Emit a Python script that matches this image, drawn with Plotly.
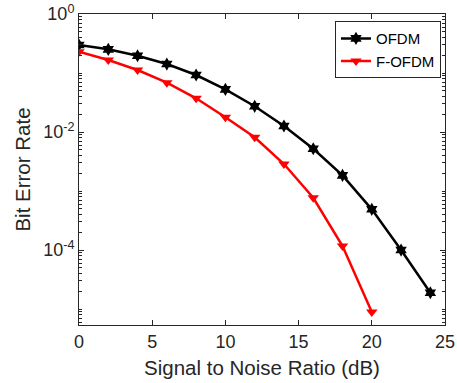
import numpy as np
import plotly.graph_objects as go

snr_ofdm = [0, 2, 4, 6, 8, 10, 12, 14, 16, 18, 20, 22, 24]
ber_ofdm = [0.298, 0.252, 0.196, 0.142, 0.0925, 0.0529, 0.0273, 0.01264,
            0.00521, 0.001845, 4.90e-4, 1.0e-4, 1.89e-5]
snr_fofdm = [0, 2, 4, 6, 8, 10, 12, 14, 16, 18, 20]
ber_fofdm = [0.2297, 0.166, 0.1124, 0.0685, 0.0373, 0.01775, 0.00813,
             0.00287, 7.69e-4, 1.17e-4, 8.9e-6]

x_ticks = [0, 5, 10, 15, 20, 25]
y_ticks = [1, 1e-2, 1e-4]
y_ticktext = ["10<sup>0</sup>", "10<sup>-2</sup>", "10<sup>-4</sup>"]

AX = "#262626"
FONT = "Liberation Sans, Arial, Helvetica, sans-serif"

minor_vals = []
for k in range(-6, 0):
    for m in range(1, 10):
        v = m * 10.0 ** k
        if v not in y_ticks:
            minor_vals.append(v)

fig = go.Figure()
fig.add_trace(go.Scatter(
    x=snr_ofdm, y=ber_ofdm, mode="lines+markers", name="OFDM",
    line=dict(color="black", width=2.5),
    marker=dict(symbol="hexagram", size=10, color="black"),
))
fig.add_trace(go.Scatter(
    x=snr_fofdm, y=ber_fofdm, mode="lines+markers", name="F-OFDM",
    line=dict(color="#ff0000", width=2.5),
    marker=dict(symbol="triangle-down", size=10, color="#ff0000"),
))

fig.update_layout(
    width=457, height=383,
    margin=dict(l=79, r=12, t=14, b=58, autoexpand=False),
    paper_bgcolor="white", plot_bgcolor="white",
    font=dict(family=FONT, color=AX, size=16),
    showlegend=True,
    legend=dict(
        x=0.989, y=0.977, xanchor="right", yanchor="top",
        bgcolor="white", bordercolor=AX, borderwidth=1,
        font=dict(size=15, color="black"),
        itemwidth=30, tracegroupgap=0,
    ),
)

fig.update_xaxes(
    range=[0, 25], tickvals=x_ticks,
    showline=True, linecolor=AX, linewidth=1, mirror="allticks",
    ticks="inside", ticklen=5, tickcolor=AX, showgrid=False, zeroline=False,
    tickfont=dict(size=18, color=AX),
    title=dict(text="Signal to Noise Ratio (dB)", font=dict(size=20.5, color=AX), standoff=10),
)
fig.update_yaxes(
    type="log", range=[-5.27, 0],
    tickvals=y_ticks, ticktext=y_ticktext,
    showline=True, linecolor=AX, linewidth=1, mirror="allticks",
    ticks="inside", ticklen=5, tickcolor=AX, showgrid=False, zeroline=False,
    tickfont=dict(size=18, color=AX),
    minor=dict(tickmode="array", tickvals=minor_vals, ticks="inside", ticklen=3,
               tickcolor=AX, showgrid=False),
    title=dict(text="Bit Error Rate", font=dict(size=20.5, color=AX), standoff=6),
)

fig.write_html("out.html")
